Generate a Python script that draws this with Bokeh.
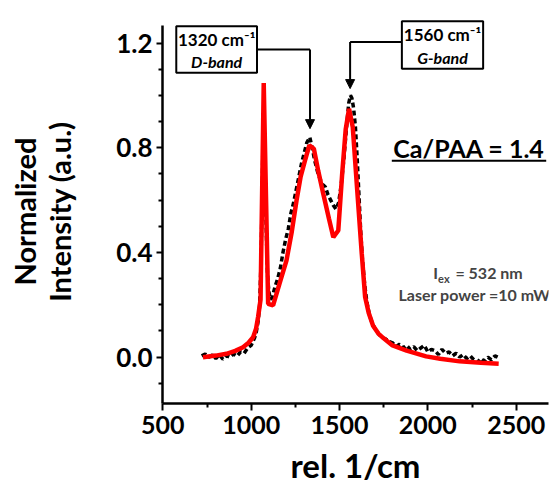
from bokeh.plotting import figure
from bokeh.models import Label, Arrow, NormalHead, FixedTicker, PrintfTickFormatter, Range1d
from bokeh.embed import file_html
from bokeh.resources import INLINE

# ---- data ----
exp_x = [720, 740, 760, 780, 800, 820, 840, 860, 880, 900, 920, 940, 960, 980, 1000,
         1020, 1030, 1040, 1048, 1055, 1062, 1068, 1072, 1078, 1085, 1092, 1100, 1110,
         1120, 1135, 1150, 1165, 1180, 1195, 1210, 1225, 1240, 1255, 1270, 1285, 1300,
         1315, 1332, 1345, 1360, 1375, 1390, 1405, 1420, 1435, 1450, 1465, 1480, 1495,
         1510, 1525, 1540, 1552, 1562, 1570, 1580, 1590, 1600, 1610, 1620, 1630, 1642,
         1655, 1670, 1685, 1700, 1720, 1740, 1760, 1780, 1800, 1820, 1840, 1860, 1880,
         1900, 1920, 1940, 1960, 1980, 2000, 2020, 2040, 2060, 2080, 2100, 2120, 2140,
         2160, 2180, 2200, 2220, 2240, 2260, 2280, 2300, 2320, 2340, 2360, 2380, 2395]
exp_y = [0.005, 0.012, 0.000, 0.008, -0.005, 0.010, -0.008, 0.006, 0.000, 0.012, 0.004,
         0.020, 0.015, 0.035, 0.045, 0.075, 0.10, 0.14, 0.20, 0.35, 0.60, 0.90, 0.95,
         0.75, 0.50, 0.32, 0.25, 0.22, 0.23, 0.27, 0.30, 0.34, 0.40, 0.45, 0.49, 0.55,
         0.59, 0.64, 0.69, 0.74, 0.78, 0.82, 0.84, 0.80, 0.75, 0.71, 0.68, 0.66, 0.65,
         0.62, 0.60, 0.58, 0.565, 0.59, 0.66, 0.76, 0.88, 0.97, 1.0, 0.99, 0.95, 0.88,
         0.76, 0.62, 0.48, 0.37, 0.28, 0.21, 0.16, 0.13, 0.11, 0.09, 0.075, 0.07, 0.06,
         0.055, 0.04, 0.05, 0.035, 0.045, 0.03, 0.04, 0.025, 0.035, 0.045, 0.02, 0.03,
         0.025, 0.01, 0.03, 0.015, 0.02, 0.005, 0.015, 0.0, 0.01, -0.005, 0.005, -0.01,
         -0.02, -0.005, -0.015, 0.0, -0.01, 0.005, 0.0]

fit_x = [727, 800, 860, 910, 954, 985, 1011, 1028, 1039, 1053, 1071, 1096, 1124, 1160,
         1200, 1230, 1257, 1280, 1304, 1329, 1355, 1380, 1408, 1440, 1465, 1493, 1515,
         1535, 1554, 1575, 1600, 1626, 1645, 1665, 1690, 1720, 1750, 1800, 1880, 1990,
         2070, 2180, 2300, 2401]
fit_y = [0.0, 0.006, 0.013, 0.024, 0.038, 0.055, 0.076, 0.11, 0.153, 0.22, 1.047, 0.204,
         0.198, 0.28, 0.37, 0.48, 0.60, 0.69, 0.75, 0.809, 0.796, 0.71, 0.624, 0.53,
         0.458, 0.484, 0.70, 0.87, 0.949, 0.879, 0.64, 0.395, 0.23, 0.17, 0.12, 0.09,
         0.072, 0.045, 0.025, 0.003, -0.006, -0.016, -0.021, -0.025]

x_ticks = [500, 1000, 1500, 2000, 2500]
x_minor = [750, 1250, 1750, 2250]
y_ticks = [0.0, 0.4, 0.8, 1.2]
y_minor = [-0.1, 0.1, 0.2, 0.3, 0.5, 0.6, 0.7, 0.9, 1.0, 1.1]

band_pos = ["1320 cm\u207b\u00b9", "1560 cm\u207b\u00b9"]
band_name = ["D-band", "G-band"]
box_left = [576, 1853]
box_right = [1033, 2313]
box_top = [1.264, 1.283]
box_bottom = [1.087, 1.102]
elbow_y = [1.175, 1.204]
tip_x = [1333, 1560]
tip_y = [0.873, 1.026]

FONT = "Lato"
PX = 1 / 261.7          # one screen pixel in y-data units


def lift(fs):
    # labels sit lower than their alphabetic anchor; compensate
    return 0.37 * fs * PX


p = figure(width=560, height=489, output_backend="svg", toolbar_location=None,
           x_range=Range1d(498, 2683), y_range=Range1d(-0.177, 1.29),
           min_border_left=162, min_border_right=12, min_border_top=19,
           min_border_bottom=86)
p.outline_line_color = None
p.xgrid.visible = False
p.ygrid.visible = False
p.background_fill_color = "white"
p.border_fill_color = "white"

for ax in (p.xaxis[0], p.yaxis[0]):
    ax.axis_line_width = 2.5
    ax.axis_line_color = "black"
    ax.major_tick_line_width = 2
    ax.minor_tick_line_width = 2
    ax.major_tick_in = 0
    ax.minor_tick_in = 0
    ax.major_label_text_font = FONT
    ax.major_label_text_font_style = "bold"
    ax.major_label_text_color = "black"
    ax.axis_label_text_font = FONT
    ax.axis_label_text_font_style = "bold"
    ax.axis_label_text_color = "black"

p.xaxis.ticker = FixedTicker(ticks=x_ticks, minor_ticks=x_minor)
p.xaxis.major_label_text_font_size = "25px"
p.xaxis.major_tick_out = 7
p.xaxis.minor_tick_out = 4
p.xaxis.major_label_standoff = 5
p.xaxis.axis_label = "rel. 1/cm"
p.xaxis.axis_label_text_font_size = "33px"
p.xaxis.axis_label_standoff = 8

p.yaxis.ticker = FixedTicker(ticks=y_ticks, minor_ticks=y_minor)
p.yaxis.formatter = PrintfTickFormatter(format="%.1f")
p.yaxis.major_label_text_font_size = "26px"
p.yaxis.major_tick_out = 6
p.yaxis.minor_tick_out = 4
p.yaxis.major_label_standoff = 4
p.yaxis.bounds = (-0.177, 1.267)
p.yaxis.axis_label = "Normalized\nIntensity (a.u.)"
p.yaxis.axis_label_text_font_size = "29px"
p.yaxis.axis_label_text_line_height = 1.0
p.yaxis.axis_label_standoff = 36

# curves
p.line(exp_x, exp_y, line_color="black", line_width=3.5, line_dash="5 3")
p.line(fit_x, fit_y, line_color="red", line_width=4.5)

# callouts
p.quad(left=box_left, right=box_right, top=box_top, bottom=box_bottom,
       fill_color="white", line_color="black", line_width=2)
seg_x0 = [box_right[0], box_left[1]]
p.segment(x0=seg_x0, y0=elbow_y, x1=tip_x, y1=elbow_y, line_color="black", line_width=2)
for i in range(2):
    p.add_layout(Arrow(end=NormalHead(size=9, fill_color="black", line_color="black"),
                       x_start=tip_x[i], y_start=elbow_y[i], x_end=tip_x[i], y_end=tip_y[i],
                       line_color="black", line_width=2))
    cx = (box_left[i] + box_right[i]) / 2
    h = box_top[i] - box_bottom[i]
    p.add_layout(Label(x=cx, y=box_top[i] - 0.41 * h + lift(17), text=band_pos[i],
                       text_font=FONT, text_font_style="bold", text_font_size="17px",
                       text_align="center", text_baseline="alphabetic", text_color="black"))
    p.add_layout(Label(x=cx, y=box_bottom[i] + 0.12 * h + lift(16), text=band_name[i],
                       text_font=FONT, text_font_style="bold italic", text_font_size="16px",
                       text_align="center", text_baseline="alphabetic", text_color="black"))

# Ca/PAA label with underline
p.add_layout(Label(x=2233, y=0.763 + lift(25), text="Ca/PAA = 1.4", text_font=FONT,
                   text_font_style="bold", text_font_size="25px", text_align="center",
                   text_baseline="alphabetic", text_color="black"))
p.segment(x0=[1796], y0=[0.750], x1=[2670], y1=[0.750], line_color="black", line_width=2)

# excitation info
p.add_layout(Label(x=2031, y=0.30 + lift(16), text="I", text_font=FONT, text_font_style="bold",
                   text_font_size="16px", text_align="left", text_baseline="alphabetic"))
p.add_layout(Label(x=2058, y=0.284 + lift(11), text="ex", text_font=FONT,
                   text_font_style="bold", text_font_size="11px", text_align="left",
                   text_baseline="alphabetic"))
p.add_layout(Label(x=2156, y=0.30 + lift(16), text="= 532 nm", text_font=FONT,
                   text_font_style="bold", text_font_size="16px", text_align="left",
                   text_baseline="alphabetic"))
p.add_layout(Label(x=2265, y=0.217 + lift(16), text="Laser power =10 mW", text_font=FONT,
                   text_font_style="bold", text_font_size="16px", text_align="center",
                   text_baseline="alphabetic"))

open("out.html", "w").write(file_html(p, INLINE))
